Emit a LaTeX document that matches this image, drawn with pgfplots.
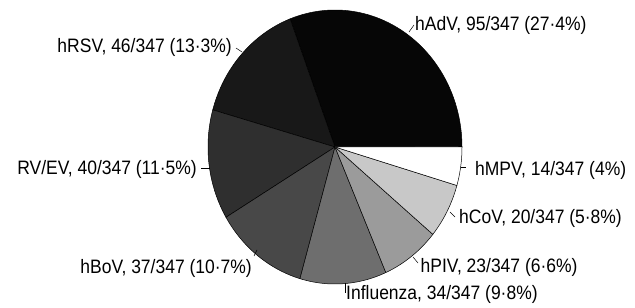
\documentclass[border=0pt]{standalone}
\usepackage{pgfplots}
\pgfplotsset{compat=1.18}
\usepackage{fontspec}
\setmainfont{Liberation Sans}[FakeStretch=0.9]
\definecolor{cAdV}{HTML}{060606}
\definecolor{cRSV}{HTML}{181818}
\definecolor{cRV}{HTML}{2F2F2F}
\definecolor{cBoV}{HTML}{484848}
\definecolor{cFlu}{HTML}{6E6E6E}
\definecolor{cPIV}{HTML}{9B9B9B}
\definecolor{cCoV}{HTML}{C8C8C8}
\definecolor{cMPV}{HTML}{FFFFFF}
% slice: #1 = cumulative count before the slice, #2 = count, #3 = colour (total 309)
\newcommand\pieslice[3]{%
  \pgfmathsetmacro\sa{#1/309*360}%
  \pgfmathsetmacro\sb{(#1+#2)/309*360}%
  \edef\doslice{\noexpand\addplot[fill=#3, draw=black, line width=0.5pt, domain=\sa:\sb, samples=80, variable=\noexpand\t]
    ({335+127*cos(\noexpand\t)},{161+137*sin(\noexpand\t)}) -- (axis cs:335,161) -- cycle;}%
  \doslice
}
\begin{document}
\begin{tikzpicture}
\begin{axis}[name=ax, width=635bp, height=308bp, scale only axis,
  xmin=0, xmax=635, ymin=0, ymax=308, hide axis, clip=false]
\pieslice{0}{95}{cAdV}
\pieslice{95}{46}{cRSV}
\pieslice{141}{40}{cRV}
\pieslice{181}{37}{cBoV}
\pieslice{218}{34}{cFlu}
\pieslice{252}{23}{cPIV}
\pieslice{275}{20}{cCoV}
\pieslice{295}{14}{cMPV}
\begin{scope}[every node/.style={inner sep=0pt, font=\fontsize{19.5}{21}\selectfont}]
\node[anchor=base west] at (axis cs:415,277.5) {hAdV, 95/347 (27·4\%)};
\node[anchor=base east] at (axis cs:232,255) {hRSV, 46/347 (13·3\%)};
\node[anchor=base east] at (axis cs:197,133) {RV/EV, 40/347 (11·5\%)};
\node[anchor=base east] at (axis cs:252,34) {hBoV, 37/347 (10·7\%)};
\node[anchor=base west] at (axis cs:346,8.5) {Influenza, 34/347 (9·8\%)};
\node[anchor=base west] at (axis cs:420.5,35) {hPIV, 23/347 (6·6\%)};
\node[anchor=base west] at (axis cs:459,84.5) {hCoV, 20/347 (5·8\%)};
\node[anchor=base west] at (axis cs:475,132) {hMPV, 14/347 (4\%)};
\end{scope}
\draw[line width=0.5pt] (axis cs:409,276) -- (axis cs:414,283);
\draw[line width=0.5pt] (axis cs:236,260) -- (axis cs:242,256);
\draw[line width=0.5pt] (axis cs:201,140) -- (axis cs:210,140);
\draw[line width=0.5pt] (axis cs:254,52) -- (axis cs:257,58);
\draw[line width=0.5pt] (axis cs:345,25) -- (axis cs:345,15);
\draw[line width=0.5pt] (axis cs:413,51) -- (axis cs:418,45);
\draw[line width=0.5pt] (axis cs:450,96) -- (axis cs:455,91);
\draw[line width=0.5pt] (axis cs:461,141) -- (axis cs:466,141);
\end{axis}
\pgfresetboundingbox
\useasboundingbox (ax.south west) rectangle (ax.north east);
\end{tikzpicture}
\end{document}
